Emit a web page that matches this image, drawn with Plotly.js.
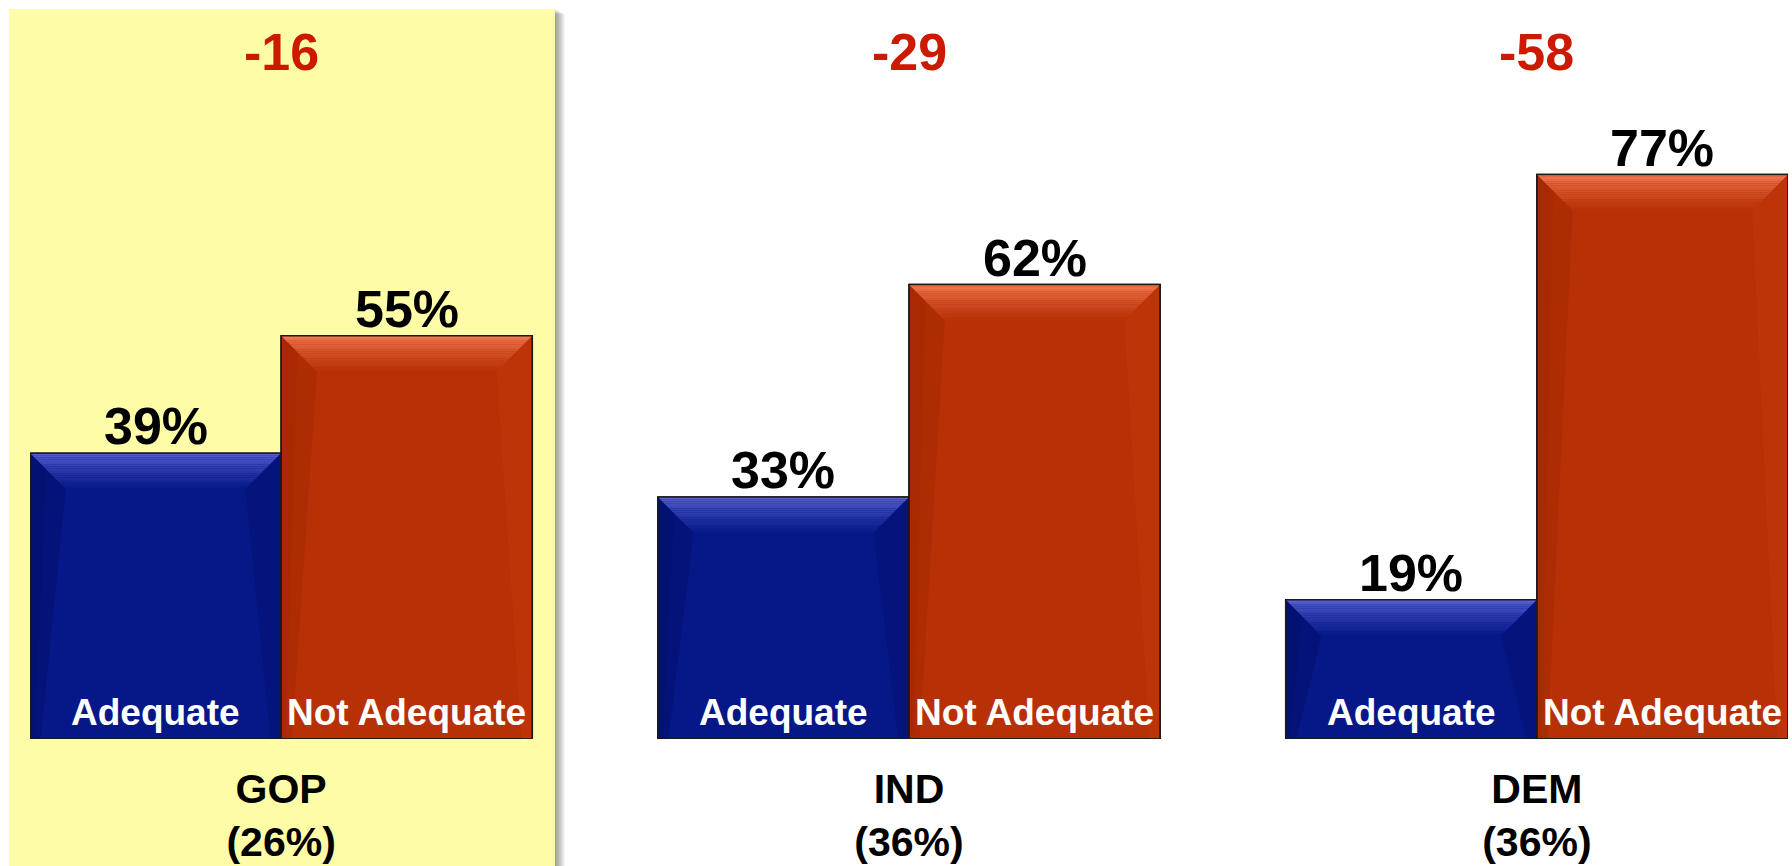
<!DOCTYPE html>
<html>
<head>
<meta charset="utf-8">
<script src="https://cdn.plot.ly/plotly-3.0.1.min.js"></script>
<style>
html,body{margin:0;padding:0;background:#fff;}
#chart{width:1792px;height:866px;}
</style>
</head>
<body>
<div id="chart"></div>
<script>
// ---- data ----
const groups = ["GOP", "IND", "DEM"];
const groupShares = ["(26%)", "(36%)", "(36%)"];
const adequate = [39, 33, 19];
const notAdequate = [55, 62, 77];
const netDiff = [-16, -29, -58];
const seriesNames = ["Adequate", "Not Adequate"];

// ---- styling ----
const FONT = "Liberation Sans, Arial, Helvetica, sans-serif";
const BLUE = "#061888";
const RED = "#B83006";
const barW = 0.4;              // each bar width in x units (bargap 0.2)
const xIdx = groups.map((g, i) => i);
const seriesVals = [adequate, notAdequate];
const baseCol = [BLUE, RED];

const traces = seriesVals.map((vals, s) => ({
  type: "bar", name: seriesNames[s], x: xIdx, y: vals,
  marker: {color: baseCol[s], line: {color: "#1a1a1a", width: 1.5}},
  hoverinfo: "skip"
}));

function lerp(a, b, t) {
  const pa = [1,3,5].map(k => parseInt(a.substr(k,2),16));
  const pb = [1,3,5].map(k => parseInt(b.substr(k,2),16));
  return "rgb(" + pa.map((v,i) => Math.round(v + (pb[i]-v)*t)).join(",") + ")";
}
const shapes = [];
// highlighted panel behind GOP with a soft drop shadow
const PX = 1 / 1758, PY = 1 / 733;
for (let k = 10; k >= 1; k--) {
  shapes.push({type: "rect", xref: "paper", yref: "paper", layer: "below",
    x0: -0.0119 + k * PX, x1: 0.2986 + k * PX, y0: -0.2, y1: 0.9959 - k * PY * 0.5,
    fillcolor: "rgba(0,0,0,0.045)", line: {width: 0}});
}
shapes.push({type: "rect", xref: "paper", yref: "paper", layer: "below",
  x0: -0.0119, x1: 0.2986, y0: -0.2, y1: 0.9959,
  fillcolor: "#FFFCA8", line: {width: 0}});

// bevel shading derived from the bar data
const dx = 0.057, dy = 4.9;
const topLight = ["#6068D8", "#F8805A"];
const sideL = ["#030C60", "#9A2400"];
const sideR = ["#030C60", "#C8400C"];
seriesVals.forEach((vals, s) => {
  vals.forEach((v, g) => {
    const x0 = g - 0.4 + s * barW, x1 = x0 + barW;
    shapes.push({type: "path", xref: "x", yref: "y", layer: "above",
      path: `M ${x0},${v} L ${x0+dx},${v-dy} L ${x0+dx*0.3},0 L ${x0},0 Z`,
      fillcolor: sideL[s], opacity: 0.35, line: {width: 0}});
    shapes.push({type: "path", xref: "x", yref: "y", layer: "above",
      path: `M ${x0},${v} L ${x0+dx*0.45},${v-dy*0.45} L ${x0+dx*0.12},0 L ${x0},0 Z`,
      fillcolor: sideL[s], opacity: 0.3, line: {width: 0}});
    shapes.push({type: "path", xref: "x", yref: "y", layer: "above",
      path: `M ${x1},${v} L ${x1-dx},${v-dy} L ${x1-dx*0.3},0 L ${x1},0 Z`,
      fillcolor: sideR[s], opacity: 0.3, line: {width: 0}});
    const n = 16;
    for (let k = 0; k < n; k++) {
      const t0 = k / n, t1 = (k + 1) / n;
      const ya = v - dy * t0, yb = v - dy * t1;
      const xa0 = x0 + dx * t0, xa1 = x1 - dx * t0;
      const xb0 = x0 + dx * t1, xb1 = x1 - dx * t1;
      const tc = Math.pow((k + 0.5) / n, 0.7);
      shapes.push({type: "path", xref: "x", yref: "y", layer: "above",
        path: `M ${xa0},${ya} L ${xa1},${ya} L ${xb1},${yb} L ${xb0},${yb} Z`,
        fillcolor: lerp(topLight[s], lerp(baseCol[s], baseCol[s], 0).replace(/rgb\((\d+),(\d+),(\d+)\)/, (m,r,gg,b) => "#" + [r,gg,b].map(q => (+q).toString(16).padStart(2,"0")).join("")), tc),
        line: {width: 0}});
    }
    shapes.push({type: "rect", xref: "x", yref: "y", layer: "above",
      x0: x0, x1: x1, y0: 0, y1: v, line: {color: "#1a1a1a", width: 1.5}});
  });
});

const annotations = [];
seriesVals.forEach((vals, s) => {
  vals.forEach((v, g) => {
    // value labels above bars
    annotations.push({x: g - 0.2 + s * barW, y: v, xref: "x", yref: "y",
      yanchor: "bottom", yshift: -4, showarrow: false, text: v + "%",
      font: {family: FONT, size: 52, color: "#000", weight: "bold"}});
    // series labels inside bars
    annotations.push({x: g - 0.2 + s * barW, y: 0, xref: "x", yref: "y",
      yanchor: "bottom", yshift: 4, showarrow: false, text: seriesNames[s],
      font: {family: FONT, size: 37, color: "#fff", weight: "bold"}});
  });
});
netDiff.forEach((d, g) => {
  annotations.push({x: g, y: 93.7, xref: "x", yref: "y", yanchor: "middle",
    showarrow: false, text: String(d),
    font: {family: FONT, size: 52, color: "#CC1A00", weight: "bold"}});
});

const layout = {
  width: 1792, height: 866,
  margin: {l: 30, r: 4, t: 6, b: 127},
  paper_bgcolor: "#ffffff", plot_bgcolor: "rgba(0,0,0,0)",
  barmode: "group", bargap: 0.2, bargroupgap: 0,
  showlegend: false,
  xaxis: {range: [-0.4, 2.4], tickmode: "array", tickvals: xIdx,
    ticktext: groups.map((g, i) => g + "<br>" + groupShares[i]),
    ticks: "", showgrid: false, zeroline: false, showline: false,
    ticklabelstandoff: 22,
    tickfont: {family: FONT, size: 41, color: "#000", weight: "bold"}},
  yaxis: {range: [0, 100], visible: false, showgrid: false, zeroline: false, fixedrange: true},
  shapes: shapes,
  annotations: annotations,
  font: {family: FONT}
};

Plotly.newPlot("chart", traces, layout, {displayModeBar: false, staticPlot: true});
</script>
</body>
</html>
